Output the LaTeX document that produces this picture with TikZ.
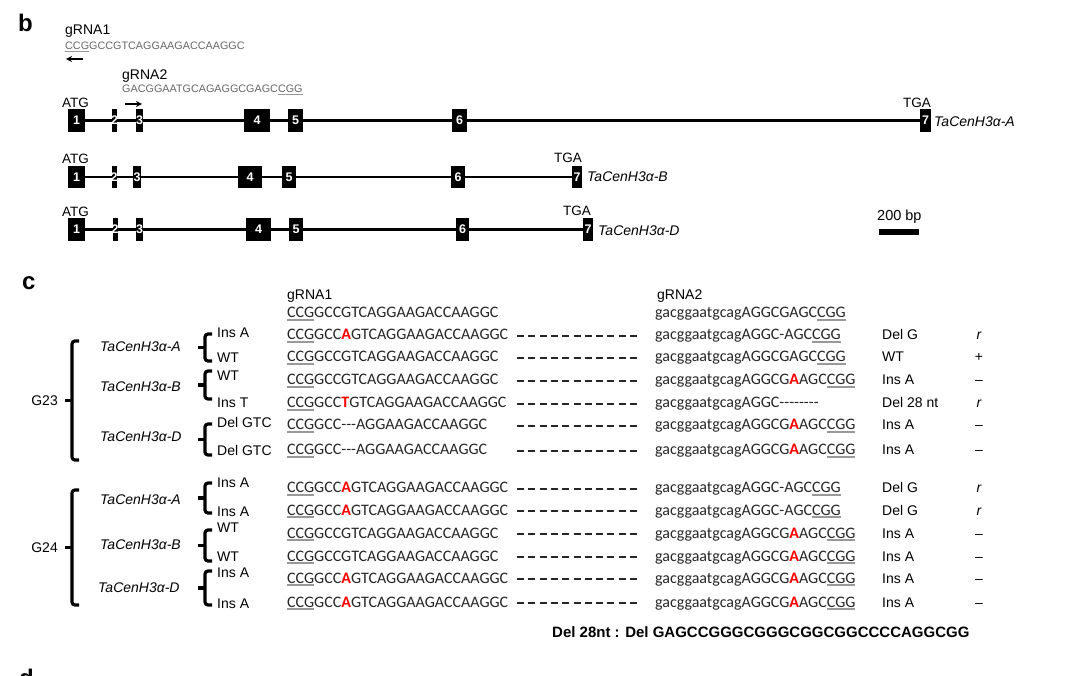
\documentclass[tikz,border=0pt]{standalone}
\usepackage{fontspec}
\setmainfont{Liberation Sans}
\newfontfamily\seqf{Carlito}
\usetikzlibrary{arrows.meta,backgrounds}
\definecolor{seqcol}{gray}{0.15}
\definecolor{bseq}{gray}{0.40}
\definecolor{pamg}{gray}{0.6}
\newsavebox\pambox
\newcommand\pamu[1]{\sbox\pambox{#1}\rlap{\textcolor{pamg}{\rule[-0.17em]{\wd\pambox}{0.08em}}}\usebox\pambox}
\newcommand\redA[1]{\textcolor{red}{\bfseries #1}}
\newcommand\ex[5]{\node[exon,minimum width=#4,minimum height=#5] (#1) at (#2) {\makebox[0pt]{#3}};}
\newcommand\brkt[5]{% x, top, bottom, hook, tick
  \draw[brk] ({#1+#4},#2) -- (#1,#2) -- (#1,#3) -- ({#1+#4},#3);
  \draw[brk] (#1,{(#2+#3)/2}) -- ({#1-#5},{(#2+#3)/2});}
\newcommand\seqrow[6]{%
  \node[seqc] (#1l) at (287,#2+5) {#3};
  \node[seqc] (#1r) at (655,#2+5) {#4};
  \node[lbl] (#1s) at (882,#2+5) {#5};
  \node[lbl,anchor=base] (#1m) at (979,#2+5) {#6};
  \coordinate (#1a) at (517,#2+1);
  \coordinate (#1b) at (638,#2+1);
  \draw[sep] (#1a) -- (#1b);}
\begin{document}
\begin{tikzpicture}[x=1pt,y=-1pt,
  lbl/.style={inner sep=0,anchor=base west,font=\fontsize{14}{16}\selectfont},
  glab/.style={inner sep=0,anchor=base west,font=\itshape\fontsize{14}{16}\selectfont},
  seqc/.style={inner sep=0,anchor=base west,font=\seqf\fontsize{16}{19}\selectfont,text=seqcol},
  seqb/.style={inner sep=0,anchor=base west,font=\fontsize{10.8}{13}\selectfont,text=bseq},
  small/.style={inner sep=0,anchor=base west,font=\fontsize{13.5}{15}\selectfont},
  exon/.style={fill=black,inner sep=0,text=white,font=\bfseries\fontsize{12.5}{13}\selectfont},
  intron/.style={line width=2.3},
  brk/.style={line width=3.2,rounded corners=3},
  sep/.style={line width=1.4,dash pattern=on 7pt off 4.3pt,draw=seqcol},
  arr/.style={line width=1.3,-{Stealth[length=6pt,width=6pt]}},
  panel/.style={inner sep=0,anchor=base west,font=\bfseries\fontsize{24}{26}\selectfont}]
\useasboundingbox (0,0) rectangle (1080,676);
\clip (0,0) rectangle (1080,676);

% ---------------- panel b ----------------
\node[panel] (pb) at (18,32) {b};
\node[lbl] (g1) at (65,35) {gRNA1};
\node[seqb] (s1) at (65,50) {\pamu{CCG}GCCGTCAGGAAGACCAAGGC};
\coordinate (ar1s) at (83,59); \coordinate (ar1e) at (66,59);
\draw[arr] (ar1s) -- (ar1e);
\node[lbl] (g2) at (122,80) {gRNA2};
\node[seqb] (s2) at (122,93) {GACGGAATGCAGAGGCGAGC\pamu{CGG}};
\coordinate (ar2s) at (125,104); \coordinate (ar2e) at (142,104);
\draw[arr] (ar2s) -- (ar2e);

% gene A
\node[small] (atgA) at (62,108) {ATG};
\ex{a1}{76.5,120.5}{1}{17}{23}
\ex{a2}{114.5,120.5}{2}{5}{23}
\ex{a3}{139.5,120.5}{3}{7}{23}
\ex{a4}{257,120.5}{4}{26}{23}
\ex{a5}{295.5,120.5}{5}{15}{23}
\ex{a6}{459.5,120.5}{6}{15}{23}
\ex{a7}{925.5,120.5}{7}{11}{23}
\node[small] (tgaA) at (903,108) {TGA};
\node[glab] (nA) at (934,127) {TaCenH3α-A};

% gene B
\node[small] (atgB) at (62,164) {ATG};
\ex{b1}{76.5,177}{1}{17}{22}
\ex{b2}{114,177}{2}{5}{22}
\ex{b3}{137,177}{3}{8}{22}
\ex{b4}{250,177}{4}{24}{22}
\ex{b5}{289,177}{5}{14}{22}
\ex{b6}{458,177}{6}{14}{22}
\ex{b7}{577,177}{7}{10}{22}
\node[small] (tgaB) at (554,163) {TGA};
\node[glab] (nB) at (587,182) {TaCenH3α-B};

% gene D
\node[small] (atgD) at (62,217) {ATG};
\ex{d1}{76.5,229.5}{1}{17}{23}
\ex{d2}{115,229.5}{2}{5}{23}
\ex{d3}{139.5,229.5}{3}{7}{23}
\ex{d4}{258.5,229.5}{4}{25}{23}
\ex{d5}{296,229.5}{5}{14}{23}
\ex{d6}{462.5,229.5}{6}{13}{23}
\ex{d7}{588,229.5}{7}{10}{23}
\node[small] (tgaD) at (563,216) {TGA};
\node[glab] (nD) at (598,236) {TaCenH3α-D};

\begin{scope}[on background layer]
  \draw[intron] (a1) -- (a7);
  \draw[intron] (b1) -- (b7);
  \draw[intron] (d1) -- (d7);
\end{scope}

% scale bar
\node[small,font=\fontsize{14.5}{16}\selectfont] (sbl) at (877,221) {200 bp};
\fill (879,229) rectangle (919,235);

% ---------------- panel c ----------------
\node[panel] (pc) at (22,290) {c};
\node[lbl] (hg1) at (287,300) {gRNA1};
\node[seqc] (hs1) at (287,318) {\pamu{CCG}GCCGTCAGGAAGACCAAGGC};
\node[lbl] (hg2) at (657,300) {gRNA2};
\node[seqc] (hs2) at (655,318) {gacggaatgcagAGGCGAGC\pamu{CGG}};

% G23
\brkt{72}{341}{460}{7}{7}
\node[lbl,anchor=east] (g23) at (58,400.5) {G23};
\node[glab,anchor=west] (g23A) at (100,347) {TaCenH3α-A};
\node[glab,anchor=west] (g23B) at (100,387) {TaCenH3α-B};
\node[glab,anchor=west] (g23D) at (100,437) {TaCenH3α-D};
\brkt{205}{334}{361}{7}{7}
\brkt{205}{371}{399}{7}{7}
\brkt{205}{424}{455}{7}{7}
\node[lbl] (l1) at (217,338) {Ins A};
\node[lbl] (l2) at (217,363) {WT};
\node[lbl] (l3) at (217,381) {WT};
\node[lbl] (l4) at (217,408) {Ins T};
\node[lbl] (l5) at (217,428) {Del GTC};
\node[lbl] (l6) at (217,456) {Del GTC};

\seqrow{ra}{335}{\pamu{CCG}GCC\redA{A}GTCAGGAAGACCAAGGC}{gacggaatgcagAGGC-AGC\pamu{CGG}}{Del G}{\itshape r}
\seqrow{rb}{357}{\pamu{CCG}GCCGTCAGGAAGACCAAGGC}{gacggaatgcagAGGCGAGC\pamu{CGG}}{WT}{+}
\seqrow{rc}{380}{\pamu{CCG}GCCGTCAGGAAGACCAAGGC}{gacggaatgcagAGGCG\redA{A}AGC\pamu{CGG}}{Ins A}{–}
\seqrow{rd}{403}{\pamu{CCG}GCC\redA{T}GTCAGGAAGACCAAGGC}{gacggaatgcagAGGC--------}{Del 28 nt}{\itshape r}
\seqrow{re}{425}{\pamu{CCG}GCC---AGGAAGACCAAGGC}{gacggaatgcagAGGCG\redA{A}AGC\pamu{CGG}}{Ins A}{–}
\seqrow{rf}{450}{\pamu{CCG}GCC---AGGAAGACCAAGGC}{gacggaatgcagAGGCG\redA{A}AGC\pamu{CGG}}{Ins A}{–}

% G24
\brkt{72}{490}{605}{7}{7}
\node[lbl,anchor=east] (g24) at (58,547.5) {G24};
\node[glab,anchor=west] (g24A) at (100,500) {TaCenH3α-A};
\node[glab,anchor=west] (g24B) at (100,545) {TaCenH3α-B};
\node[glab,anchor=west] (g24D) at (98,588) {TaCenH3α-D};
\brkt{205}{483}{513}{7}{7}
\brkt{205}{530}{561}{7}{7}
\brkt{205}{571}{605}{7}{7}
\node[lbl] (m1) at (217,488) {Ins A};
\node[lbl] (m2) at (217,516) {Ins A};
\node[lbl] (m3) at (217,532) {WT};
\node[lbl] (m4) at (217,561) {WT};
\node[lbl] (m5) at (217,577) {Ins A};
\node[lbl] (m6) at (217,608) {Ins A};

\seqrow{sa}{488}{\pamu{CCG}GCC\redA{A}GTCAGGAAGACCAAGGC}{gacggaatgcagAGGC-AGC\pamu{CGG}}{Del G}{\itshape r}
\seqrow{sb}{510}{\pamu{CCG}GCC\redA{A}GTCAGGAAGACCAAGGC}{gacggaatgcagAGGC-AGC\pamu{CGG}}{Del G}{\itshape r}
\seqrow{sc}{533}{\pamu{CCG}GCCGTCAGGAAGACCAAGGC}{gacggaatgcagAGGCG\redA{A}AGC\pamu{CGG}}{Ins A}{–}
\seqrow{sd}{556}{\pamu{CCG}GCCGTCAGGAAGACCAAGGC}{gacggaatgcagAGGCG\redA{A}AGC\pamu{CGG}}{Ins A}{–}
\seqrow{se}{578}{\pamu{CCG}GCC\redA{A}GTCAGGAAGACCAAGGC}{gacggaatgcagAGGCG\redA{A}AGC\pamu{CGG}}{Ins A}{–}
\seqrow{sf}{602}{\pamu{CCG}GCC\redA{A}GTCAGGAAGACCAAGGC}{gacggaatgcagAGGCG\redA{A}AGC\pamu{CGG}}{Ins A}{–}

\node[lbl,font=\bfseries\fontsize{15}{17}\selectfont] (del28) at (552,637) {Del 28nt : Del GAGCCGGGCGGGCGGCGGCCCCAGGCGG};

% panel d (cut off at the lower edge, as in the reference)
\node[panel] (pd) at (19,686) {d};
\end{tikzpicture}
\end{document}
